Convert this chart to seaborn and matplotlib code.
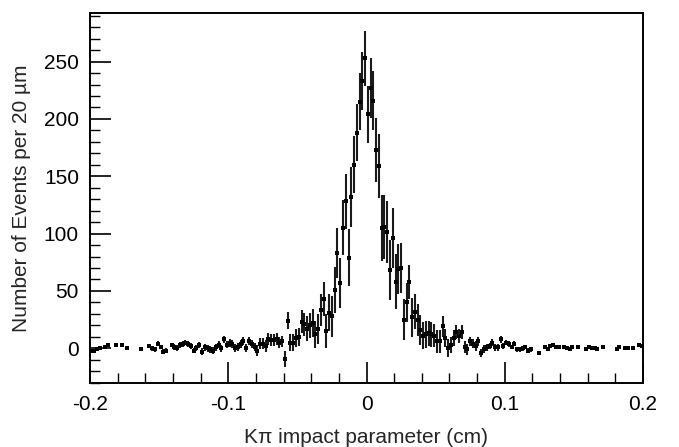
import numpy as np
import pandas as pd
import matplotlib
matplotlib.use("Agg")
import matplotlib.pyplot as plt
import seaborn as sns
from matplotlib.ticker import MultipleLocator

# Histogram binning: 200 bins of 20 um between -0.2 and 0.2 cm
BIN_EDGES = np.linspace(-0.2, 0.2, 201)

# Events per bin (None = empty bin)
counts = [
    -2, -2, -1, 0, None, 1, 3, None, None, 3,
    None, 3, None, 0, None, None, None, None, -1, None,
    None, 2, 0, -1, 4, 1, -3, -2, None, 3,
    1, 0, 3, 4, 5, 4, 2, -2, 0, 3,
    -3, 1, 0, -1, -2, 1, 3, 0, 8, 3,
    5, 4, 0, 1, 4, 6, 0, 6, 4, 1,
    -2, 4, 4, 2, 8, 7, 7, 8, 5, 6,
    -9, 24, 5, 5, 9, 10, 23, 21, 17, 20,
    22, 12, 17, 33, 43, 15, 31, 28, 51, 83,
    57, 105, 128, 79, 132, 160, 188, 215, 233, 253,
    204, 227, 216, 173, 159, 105, 106, 101, 68, 96,
    58, 69, 70, 25, 40, 58, 27, 32, 25, 16,
    11, 12, 13, 12, 11, 6, 6, 19, 9, 0,
    3, 9, 14, 11, 14, 1, -1, 6, 4, 2,
    6, -4, -1, 1, 2, 5, 1, 1, 8, 2,
    5, 4, 1, 4, -1, -1, 0, 1, -2, -1,
    None, None, -4, None, 1, -1, 2, 3, 1, 1,
    None, 1, 0, -1, 1, None, 1, None, None, -1,
    1, 0, 0, -1, None, 1, None, None, None, None,
    -1, 1, None, 0, 0, None, 0, None, 3, 2,
]

# Error bar half-lengths per bin
errors = [
    1.5, 1.5, 1.5, 1.5, 1.5, 1.5, 1.5, 1.5, 1.5, 1.5,
    1.5, 1.5, 1.5, 1.5, 1.5, 1.5, 1.5, 1.5, 1.5, 1.5,
    2, 2, 2, 2, 2, 2, 2, 2, 2, 2,
    2.5, 2.5, 2.5, 2.5, 2.5, 2.5, 2.5, 2.5, 2.5, 2.5,
    3, 3, 3, 3, 3, 3, 3, 3, 3, 3,
    3.5, 3.5, 3.5, 3.5, 3.5, 3.5, 3.5, 3.5, 3.5, 3.5,
    5, 5, 5, 5, 5, 5, 5, 5, 5, 5,
    7, 7.5, 7, 7, 8, 8, 10, 10, 11, 11,
    12, 12, 13, 14, 15, 15, 16, 18, 20, 22,
    22, 24, 24, 25, 26, 25, 25, 25, 25, 24,
    25, 26, 26, 28, 28, 29, 28, 27, 26, 26,
    24, 22, 22, 18, 17, 15, 17, 15, 14, 13,
    12, 12, 11, 11, 10, 10, 10, 9, 8, 8,
    7, 7, 6, 6, 6, 5, 5, 4, 4, 4,
    4, 3.5, 3.5, 3, 3, 3, 3, 3, 3, 2.5,
    2.5, 2.5, 2, 2, 2, 2, 2, 2, 2, 2,
    1.5, 1.5, 1.5, 1.5, 1.5, 1.5, 1.5, 1.5, 1.5, 1.5,
    1.5, 1.5, 1.5, 1.5, 1.5, 1.5, 1.5, 1.5, 1.5, 1.5,
    1.5, 1.5, 1.5, 1.5, 1.5, 1.5, 1.5, 1.5, 1.5, 1.5,
    1.5, 1.5, 1.5, 1.5, 1.5, 1.5, 1.5, 1.5, 1.5, 1.5,
]

x_ticks = [-0.2, -0.1, 0, 0.1, 0.2]
x_tick_labels = ["-0.2", "-0.1", "0", "0.1", "0.2"]
y_ticks = [0, 50, 100, 150, 200, 250]

centers = 0.5 * (BIN_EDGES[:-1] + BIN_EDGES[1:])
df = pd.DataFrame({"x": centers, "n": counts, "err": errors}).dropna()
df["n"] = df["n"].astype(float)

sns.set_theme(style="ticks")
plt.rcParams["font.family"] = ["Liberation Sans", "DejaVu Sans"]

fig = plt.figure(figsize=(6.79, 4.47), dpi=100)
ax = fig.add_axes([90 / 679, 64 / 447, 553 / 679, 370 / 447])

ax.errorbar(df["x"], df["n"], yerr=df["err"], fmt="none",
            ecolor="#1a1a1a", elinewidth=1.5, capsize=0, zorder=2)
sns.scatterplot(data=df, x="x", y="n", ax=ax, marker="s", s=5,
                color="black", linewidth=0, legend=False, zorder=3)

ax.set_xlim(-0.2, 0.2)
ax.set_ylim(-30.3, 292.4)
ax.set_xticks(x_ticks)
ax.set_xticklabels(x_tick_labels)
ax.set_yticks(y_ticks)
ax.xaxis.set_minor_locator(MultipleLocator(0.02))
ax.yaxis.set_minor_locator(MultipleLocator(10))

ax.tick_params(axis="both", which="major", direction="in", length=15, width=1.2,
               labelsize=15, color="black", labelcolor="black",
               top=False, right=False)
ax.tick_params(axis="both", which="minor", direction="in", length=7, width=1.0,
               color="black", top=False, right=False)
ax.tick_params(axis="x", which="major", pad=9)
ax.tick_params(axis="y", which="major", pad=8)

for side in ["left", "bottom", "top", "right"]:
    ax.spines[side].set_visible(True)
    ax.spines[side].set_color("black")
    ax.spines[side].set_linewidth(1.4)

ax.set_xlabel("K\u03c0 impact parameter (cm)", fontsize=15, labelpad=10)
ax.set_ylabel("Number of Events per 20 \u00b5m", fontsize=15, labelpad=9)

fig.savefig("out.png", dpi=100)
